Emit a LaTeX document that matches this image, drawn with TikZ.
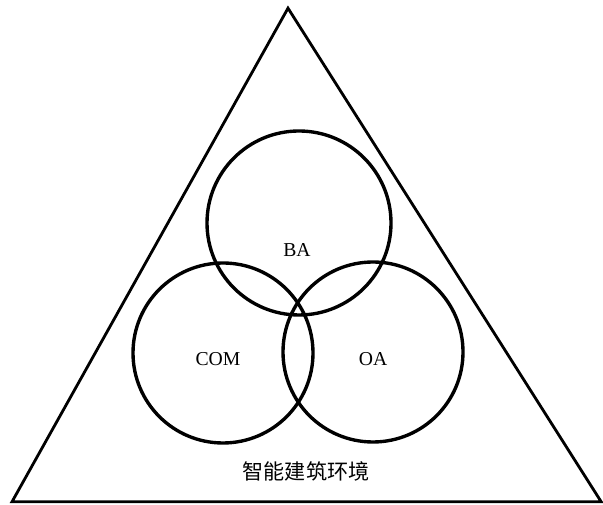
\documentclass[tikz,border=0pt]{standalone}
\usepackage{fontspec}
\setmainfont{Liberation Serif}
\newfontfamily\cjk{Noto Sans CJK SC}
\usepackage{tikz}
\usetikzlibrary{shapes.geometric}

\begin{document}
\begin{tikzpicture}[
  ring/.style={circle, draw=black, line width=2.4pt, inner sep=0pt},
  lbl/.style={font=\fontsize{14}{16}\selectfont, inner sep=0pt},
  env/.style={draw=black, line width=2pt, line join=miter}
]
\useasboundingbox (0,0) rectangle (15.075,12.625);

% Environment triangle
\coordinate (top) at (7.2,12.42);
\coordinate (bl) at (0.3,0.08);
\coordinate (br) at (15.03,0.08);
\draw [env] (top) -- (br) -- (bl) -- cycle;

% Subsystems
\node (ba) [ring, minimum size=4.6cm] at (7.475,7.05) {};
\node (com) [ring, minimum size=4.5cm] at (5.575,3.8) {};
\node (oa) [ring, minimum size=4.5cm] at (9.325,3.825) {};

% Labels
\node (balbl) [lbl] at (7.425,6.375) {BA};
\node (comlbl) [lbl] at (5.45,3.65) {COM};
\node (oalbl) [lbl] at (9.325,3.65) {OA};
\node (envlbl) [lbl, font=\cjk\fontsize{15}{17}\selectfont] at (7.65,0.83) {智能建筑环境};
\end{tikzpicture}
\end{document}
